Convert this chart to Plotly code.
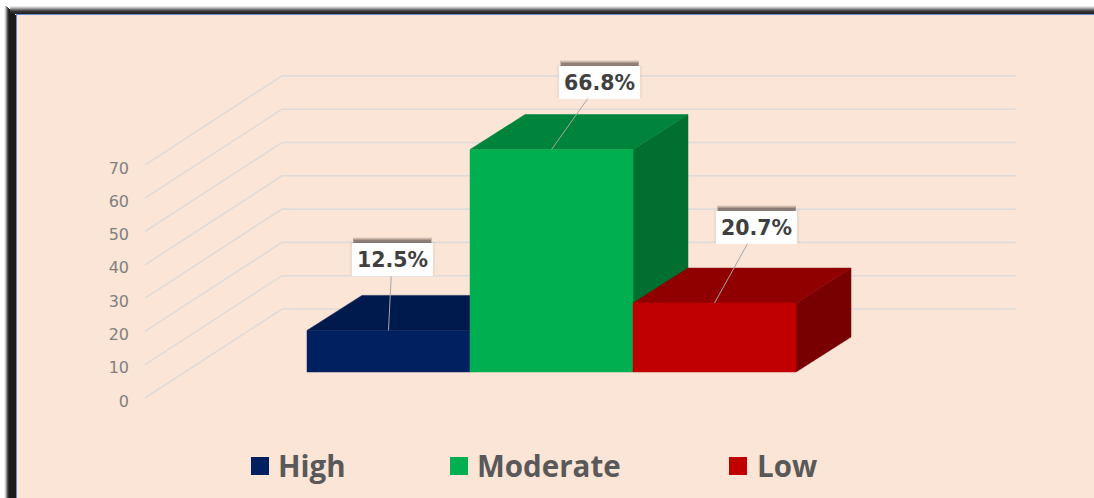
import plotly.graph_objects as go

# ---------- data ----------
categories = ["High", "Moderate", "Low"]
values = [12.5, 66.8, 20.7]
value_labels = ["12.5%", "66.8%", "20.7%"]
tick_values = [0, 10, 20, 30, 40, 50, 60, 70]
front_colors = ["#002060", "#00b050", "#c00000"]
top_colors = ["#001a4d", "#00843c", "#900000"]
side_colors = ["#001440", "#006f30", "#780000"]

# ---------- oblique projection / layout ----------
W, H = 1094, 498
LEFT = 130
ZERO_PX = 398
PX_PER_UNIT = 3.33


def vy(py):
    return (ZERO_PX - py) / PX_PER_UNIT


def xp(px):
    return (px - LEFT) / (W - LEFT)


def yp(py):
    return 1 - py / H


BAR_X0, BAR_W = 307, 163
BAR_BASE = vy(372)
BAR_DX, BAR_DY = 55, 35 / PX_PER_UNIT
WALL_DX, WALL_DY = 137, 89 / PX_PER_UNIT
WALL_END = 1016
GRID = "#e0dbd9"
BG = "#fbe5d6"

fig = go.Figure()

# gridlines on the side wall and the back wall
gx, gy = [], []
for t in tick_values:
    gx += [145, 145 + WALL_DX, WALL_END, None]
    gy += [t, t + WALL_DY, t + WALL_DY, None]
fig.add_trace(go.Scatter(x=gx, y=gy, mode="lines", line=dict(color=GRID, width=1.6),
                         hoverinfo="skip", showlegend=False))


def face(xs, ys, color):
    fig.add_trace(go.Scatter(x=xs, y=ys, mode="lines", fill="toself", fillcolor=color,
                             line=dict(color=color, width=0.5), hoverinfo="skip",
                             showlegend=False))


# bars, each as three faces
for i, v in enumerate(values):
    x0 = BAR_X0 + BAR_W * i
    x1 = x0 + BAR_W
    y0 = BAR_BASE
    y1 = BAR_BASE + v
    face([x1, x1 + BAR_DX, x1 + BAR_DX, x1, x1],
         [y0, y0 + BAR_DY, y1 + BAR_DY, y1, y0], side_colors[i])
    face([x0, x0 + BAR_DX, x1 + BAR_DX, x1, x0],
         [y1, y1 + BAR_DY, y1 + BAR_DY, y1, y1], top_colors[i])
    face([x0, x1, x1, x0, x0], [y0, y0, y1, y1, y0], front_colors[i])

# data labels with leader lines and a soft shadow along the top of each box
label_offsets = [(3.5, -70.5), (48, -67.5), (42, -75.5)]
annotations = []
for i, v in enumerate(values):
    cx = BAR_X0 + BAR_W * i + BAR_W / 2
    cy = BAR_BASE + v
    ax, ay = label_offsets[i]
    for lift, alpha, grow in [(6, 0.08, -2), (5, 0.14, -2), (4, 0.2, -3), (3, 0.24, -4), (1, 0.05, 4)]:
        annotations.append(dict(x=cx, y=cy, xref="x", yref="y", text=" ", showarrow=False,
                                xshift=ax, yshift=-ay + lift, width=81 + grow, height=33,
                                bgcolor=f"rgba(50,35,30,{alpha})", borderpad=0, borderwidth=0))
    annotations.append(dict(x=cx, y=cy, xref="x", yref="y", text=value_labels[i],
                            showarrow=True, arrowhead=0, arrowwidth=1, arrowcolor="#a6a6a6",
                            ax=ax, ay=ay, axref="pixel", ayref="pixel", standoff=0,
                            width=81, height=33, bgcolor="#ffffff", borderpad=0, borderwidth=0,
                            font=dict(family="DejaVu Sans", size=20.5, color="#404040",
                                      weight="bold")))

# legend row
legend_swatch_x = [260, 459, 738]
legend_text_x = [276, 475, 755]
LEGEND_Y = vy(465)
for i, name in enumerate(categories):
    fig.add_trace(go.Scatter(x=[legend_swatch_x[i]], y=[vy(466)], mode="markers",
                             marker=dict(symbol="square", size=18, color=front_colors[i]),
                             hoverinfo="skip", showlegend=False))
    annotations.append(dict(x=legend_text_x[i], y=LEGEND_Y, xref="x", yref="y", text=name,
                            showarrow=False, xanchor="left", yanchor="middle",
                            font=dict(family="Open Sans", size=29.5, color="#595959",
                                      weight="bold")))

# panel and its dark frame (top and left edges)
shapes = [dict(type="rect", xref="paper", yref="paper", x0=xp(16), x1=xp(W), y0=yp(H), y1=yp(14),
               fillcolor=BG, line_width=0, layer="below")]
band = ["#f0f0f0", "#c8c8c8", "#909090", "#555555", "#2e2e2e", "#1c1c1c", "#1a1a1a", "#1a1a1a",
        "#1a1a1a", "#1a1a1a", "#1a1a1a", "#1a1a1a"]
for k, c in enumerate(band):
    shapes.append(dict(type="rect", xref="paper", yref="paper", x0=xp(4 + k), x1=xp(5 + k),
                       y0=yp(H), y1=yp(max(4 + k, 6)), fillcolor=c, line_width=0, layer="below"))
top_band = ["#e6e6e6", "#c8c8c8", "#a0a0a0", "#747474", "#4e4e4e", "#363636", "#2a2a2a", "#262626"]
for k, c in enumerate(top_band):
    shapes.append(dict(type="rect", xref="paper", yref="paper", x0=xp(10), x1=xp(W),
                       y0=yp(6 + k + 1), y1=yp(6 + k), fillcolor=c, line_width=0, layer="below"))
shapes.append(dict(type="rect", xref="paper", yref="paper", x0=xp(16), x1=xp(W), y0=yp(15), y1=yp(14),
                   fillcolor="#6a8ad0", line_width=0, layer="below"))
shapes.append(dict(type="rect", xref="paper", yref="paper", x0=xp(16), x1=xp(17), y0=yp(H), y1=yp(14),
                   fillcolor="#6a8ad0", line_width=0, layer="below"))

fig.update_layout(
    width=W, height=H, autosize=False,
    margin=dict(l=LEFT, r=0, t=0, b=0, pad=0),
    paper_bgcolor="#ffffff", plot_bgcolor="rgba(0,0,0,0)",
    showlegend=False, hovermode=False,
    shapes=shapes, annotations=annotations,
    xaxis=dict(range=[LEFT, W], visible=False, fixedrange=True),
    yaxis=dict(range=[vy(H), vy(0)], tickvals=tick_values, ticktext=[str(t) for t in tick_values],
               showgrid=False, zeroline=False, showline=False, ticks="", ticklabelshift=3,
               tickfont=dict(family="DejaVu Sans", size=16, color="#808080"), fixedrange=True,
               automargin=False),
)

fig.write_html("out.html", config={"displayModeBar": False},
               post_script="document.body.style.margin='0';document.body.style.overflow='hidden';")
